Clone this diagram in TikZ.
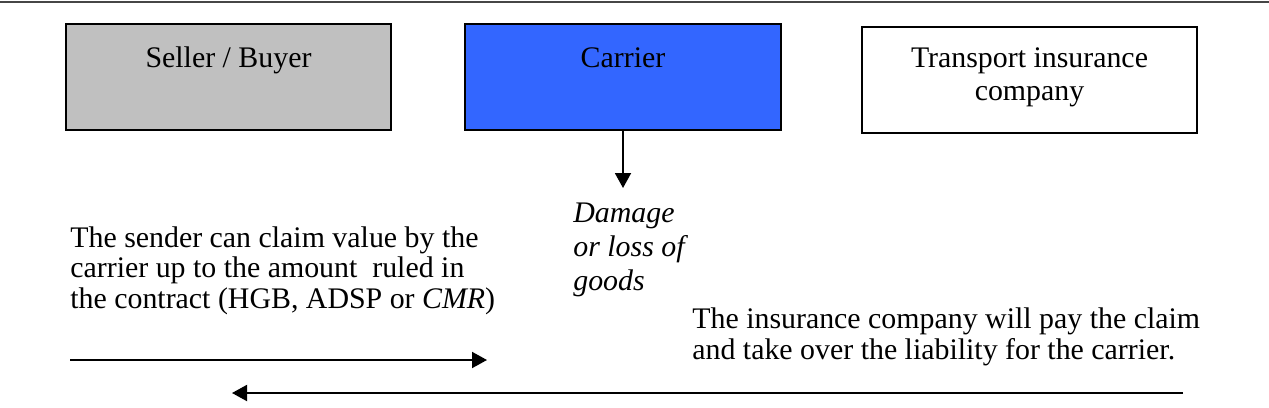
\documentclass[tikz,border=0pt]{standalone}
\usepackage{fontspec}
\setmainfont{Liberation Serif}
\usetikzlibrary{arrows.meta}
\usetikzlibrary{calc}
\definecolor{sellergray}{RGB}{192,192,192}
\definecolor{carrierblue}{RGB}{51,102,255}
\definecolor{rulegray}{RGB}{70,70,70}

\tikzset{
  party/.style={draw=black, line width=1pt, minimum height=2.12cm, inner sep=0pt},
  partytext/.style={anchor=north, inner sep=0pt, align=center, yshift=-0.42cm,
    execute at begin node=\strut, font=\fontsize{17}{19}\selectfont},
  note/.style={anchor=north west, inner sep=0pt, align=left},
  claimarrow/.style={line width=1.1pt, -{Triangle[length=0.3cm, width=0.32cm]}}
}

\begin{document}
\begin{tikzpicture}

\useasboundingbox (0, 0) rectangle (25.38, -8.14);

\draw[rulegray, line width=1.5pt] (0, -0.04) -- (25.38, -0.04);

\node[party, fill=sellergray, minimum width=6.5cm] (seller) at (4.57, -1.54) {};
\node[partytext] (sellerlabel) at (seller.north) {Seller / Buyer};

\node[party, fill=carrierblue, minimum width=6.32cm] (carrier) at (12.46, -1.54) {};
\node[partytext] (carrierlabel) at (carrier.north) {Carrier};

\node[party, fill=white, minimum width=6.7cm] (insurer) at (20.59, -1.60) {};
\node[partytext] (insurerlabel) at (insurer.north) {Transport insurance\\company};

\node[note, inner ysep=0.30cm, font=\fontsize{17}{19.3}\selectfont\itshape]
  (damage) at (11.46, -3.76) {Damage\\or loss of\\goods};
\draw[claimarrow] (carrier.south) -- (carrier.south |- damage.north);

\node[note, font=\fontsize{17}{17.2}\selectfont] (sender) at (1.40, -4.53)
  {The sender can claim value by the\\carrier up to the amount\ \ ruled in\\the contract (HGB, ADSP or \textit{CMR})};

\node[note, font=\fontsize{17}{17.8}\selectfont] (payout) at (13.84, -6.15)
  {The insurance company will pay the claim\\and take over the liability for the carrier.};

% claim goes to the carrier, payment comes back
\coordinate (claimstart) at (1.40, -7.20);
\coordinate (claimend) at (9.74, -7.20);
\coordinate (paystart) at (23.66, -7.86);
\coordinate (payend) at (4.64, -7.86);

\draw[claimarrow] (claimstart) -- (claimend);
\draw[claimarrow] (paystart) -- (payend);

\end{tikzpicture}
\end{document}
